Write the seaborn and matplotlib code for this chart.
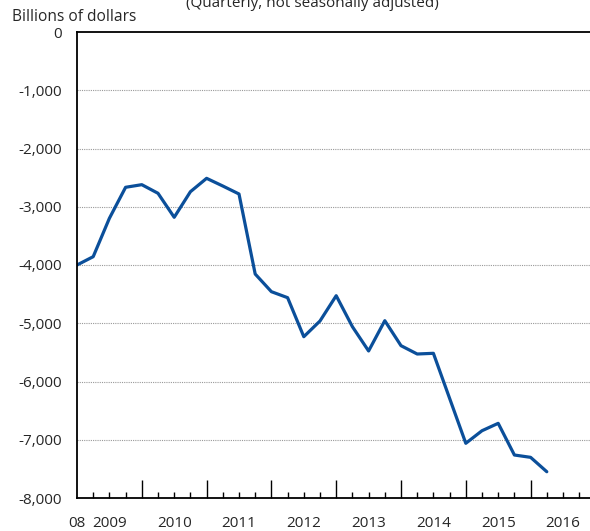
import pandas as pd
import matplotlib
matplotlib.use('Agg')
import matplotlib.pyplot as plt
import seaborn as sns

# quarterly values, 2008 Q4 .. 2016 Q1 (billions of dollars)
kuartal = list(range(30))
nilai = [-4000, -3857, -3198, -2666, -2621, -2769, -3181, -2742,
         -2512, -2644, -2781, -4155, -4458, -4561, -5231, -4961,
         -4527, -5059, -5476, -4956, -5385, -5528, -5516, -6289,
         -7061, -6845, -6718, -7262, -7302, -7549]
label_tahun = ['08', '2009', '2010', '2011', '2012', '2013', '2014', '2015', '2016']
posisi_label = [0, 2, 6, 10, 14, 18, 22, 26, 30]
y_ticks = [0, -1000, -2000, -3000, -4000, -5000, -6000, -7000, -8000]

df = pd.DataFrame({'kuartal': kuartal, 'nilai': nilai})

sns.set_style('white')
plt.rcParams['font.family'] = ['Open Sans', 'DejaVu Sans']

fig = plt.figure(figsize=(5.9, 5.31), dpi=100)
ax = fig.add_axes([77/590, 33/531, 1 - 77/590, 466/531])

sns.lineplot(data=df, x='kuartal', y='nilai', color='#0b4f9a', linewidth=2.3, ax=ax)

ax.set_xlim(0, (590 - 77) / 16.2)
ax.set_ylim(-8000, 0)

# grid lines (dotted), skip 0 which is the top border
for v in y_ticks[1:-1]:
    ax.axhline(v, color='#999999', linestyle=(0, (1, 1)), linewidth=0.8, zorder=0)

ax.set_yticks(y_ticks)
ax.set_yticklabels([f'{v:,}' for v in y_ticks], fontsize=11)
ax.tick_params(axis='y', length=0, pad=11)

ax.set_xticks([4, 8, 12, 16, 20, 24, 28])
ax.set_xticks([i for i in range(1, 32) if i % 4 != 0], minor=True)
ax.set_xticklabels([])
ax.tick_params(axis='x', which='major', direction='in', length=12.7, width=1, color='black', bottom=True)
ax.tick_params(axis='x', which='minor', direction='in', length=4.1, width=1, color='black', bottom=True)

for pos, lab in zip(posisi_label, label_tahun):
    ax.text(pos, -0.055, lab, transform=ax.get_xaxis_transform(),
            ha='center', va='center', fontsize=11, clip_on=False)

for side in ['left', 'bottom', 'top']:
    ax.spines[side].set_color('black')
    ax.spines[side].set_linewidth(1.3)
ax.spines['right'].set_visible(False)

ax.set_xlabel('')
ax.set_ylabel('')

fig.text(12/590, 1 - 17/531, 'Billions of dollars', fontsize=11.2, ha='left', va='center')
fig.text(312/590, 1 - 7/531, '(Quarterly, not seasonally adjusted)', fontsize=11,
         ha='center', va='baseline')

fig.savefig('out.png', dpi=100)
